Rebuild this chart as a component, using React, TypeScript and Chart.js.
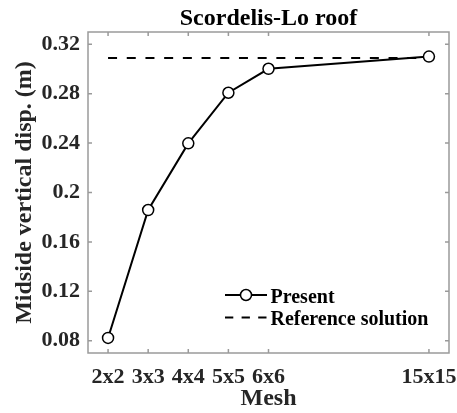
import React, { useEffect, useRef } from 'react';
import { Chart, registerables } from 'chart.js';

Chart.register(...registerables);

// ---- data ----
const meshLabels = ['2x2', '3x3', '4x4', '5x5', '6x6', '15x15'];
const meshPositions = [2, 3, 4, 5, 6, 10];
const presentValues = [0.0822, 0.1858, 0.2398, 0.2808, 0.3002, 0.3101];
const referenceValue = 0.309;
const referenceSpan = [2, 10];
const yTickValues = [0.08, 0.12, 0.16, 0.2, 0.24, 0.28, 0.32];
const yTickLabels = ['0.08', '0.12', '0.16', '0.2', '0.24', '0.28', '0.32'];
const yRange = [0.07, 0.33];
const xRange = [1.5, 10.5];

const FONT = '"Liberation Serif", "Times New Roman", serif';
const TEXT = '#262626';
const AXIS = '#9a9a9a';

const framePlugin = {
  id: 'frame',
  beforeDatasetsDraw(chart: any) {
    const { ctx, chartArea: a, scales } = chart;
    ctx.save();
    ctx.strokeStyle = AXIS;
    ctx.lineWidth = 1.5;
    ctx.strokeRect(a.left, a.top, a.right - a.left, a.bottom - a.top);
    const L = 4;
    ctx.beginPath();
    for (const v of meshPositions) {
      const x = scales.x.getPixelForValue(v);
      ctx.moveTo(x, a.bottom);
      ctx.lineTo(x, a.bottom - L);
      ctx.moveTo(x, a.top);
      ctx.lineTo(x, a.top + L);
    }
    for (const v of yTickValues) {
      const y = scales.y.getPixelForValue(v);
      ctx.moveTo(a.left, y);
      ctx.lineTo(a.left + L, y);
      ctx.moveTo(a.right, y);
      ctx.lineTo(a.right - L, y);
    }
    ctx.stroke();
    ctx.restore();
  },
};

const legendPlugin = {
  id: 'customLegend',
  afterDraw(chart: any) {
    const { ctx, chartArea: a } = chart;
    const ds = chart.data.datasets;
    const x0 = a.right - 224;
    const x1 = a.right - 182;
    const tx = a.right - 178.5;
    const rows = [
      { line: a.bottom - 58, base: a.bottom - 49.7 },
      { line: a.bottom - 35.5, base: a.bottom - 28 },
    ];
    ctx.save();
    ds.forEach((d: any, i: number) => {
      const r = rows[i];
      ctx.strokeStyle = d.borderColor;
      ctx.lineWidth = d.borderWidth;
      ctx.setLineDash(i === 1 ? [8.3, 8.3] : []);
      ctx.beginPath();
      ctx.moveTo(x0, r.line);
      ctx.lineTo(x1, r.line);
      ctx.stroke();
      ctx.setLineDash([]);
      if (d.pointRadius > 0) {
        ctx.beginPath();
        ctx.arc((x0 + x1) / 2, r.line, d.pointRadius, 0, Math.PI * 2);
        ctx.fillStyle = d.pointBackgroundColor;
        ctx.fill();
        ctx.lineWidth = d.pointBorderWidth;
        ctx.strokeStyle = d.pointBorderColor;
        ctx.stroke();
      }
      ctx.fillStyle = '#000';
      ctx.font = `bold 20px ${FONT}`;
      ctx.textAlign = 'left';
      ctx.textBaseline = 'alphabetic';
      ctx.fillText(d.label, tx, r.base);
    });
    ctx.restore();
  },
};

export default function App() {
  const ref = useRef<HTMLCanvasElement>(null);

  useEffect(() => {
    document.body.style.margin = '0';
    const canvas = ref.current!;
    const chart = new Chart(canvas, {
      type: 'line',
      data: {
        datasets: [
          {
            label: 'Present',
            data: meshPositions.map((x, i) => ({ x, y: presentValues[i] })),
            borderColor: '#000',
            borderWidth: 2,
            pointRadius: 5.5,
            pointBorderWidth: 1.5,
            pointBackgroundColor: '#fff',
            pointBorderColor: '#000',
            pointHoverRadius: 5.5,
            tension: 0,
          },
          {
            label: 'Reference solution',
            data: referenceSpan.map((x) => ({ x, y: referenceValue })),
            borderColor: '#000',
            borderWidth: 2,
            borderDash: [9, 9.7],
            pointRadius: 0,
            pointBorderWidth: 0,
            pointBackgroundColor: '#000',
            pointBorderColor: '#000',
            tension: 0,
          },
        ],
      },
      options: {
        responsive: false,
        animation: false,
        devicePixelRatio: 1,
        layout: { padding: { left: 0, right: 8, top: 0, bottom: 0 } },
        plugins: {
          legend: { display: false },
          tooltip: { enabled: false },
          title: {
            display: true,
            text: 'Scordelis-Lo roof',
            fullSize: false,
            color: '#000',
            font: { family: FONT, size: 24, weight: 'bold', lineHeight: 1 },
            padding: { top: 7, bottom: 1 },
          },
        },
        scales: {
          x: {
            type: 'linear',
            min: xRange[0],
            max: xRange[1],
            grid: { display: false, drawTicks: false },
            border: { display: false },
            afterBuildTicks: (s: any) => {
              s.ticks = meshPositions.map((v) => ({ value: v }));
            },
            afterFit: (s: any) => {
              s.height = 60;
              s.paddingLeft = 0;
              s.paddingRight = 0;
            },
            ticks: {
              autoSkip: false,
              maxRotation: 0,
              padding: 11,
              color: TEXT,
              font: { family: FONT, size: 22, weight: 'bold' },
              callback: (v: any) => {
                const i = meshPositions.indexOf(Number(v));
                return i >= 0 ? meshLabels[i] : '';
              },
            },
            title: {
              display: true,
              text: 'Mesh',
              color: TEXT,
              font: { family: FONT, size: 24, weight: 'bold' },
              padding: { top: 0, bottom: 0 },
            },
          },
          y: {
            type: 'linear',
            min: yRange[0],
            max: yRange[1],
            grid: { display: false, drawTicks: false },
            border: { display: false },
            afterBuildTicks: (s: any) => {
              s.ticks = yTickValues.map((v) => ({ value: v }));
            },
            afterFit: (s: any) => {
              s.width = 88;
              s.paddingTop = 0;
              s.paddingBottom = 0;
            },
            ticks: {
              autoSkip: false,
              padding: 8,
              color: TEXT,
              font: { family: FONT, size: 22, weight: 'bold' },
              callback: (v: any) => {
                const i = yTickValues.findIndex((t) => Math.abs(t - Number(v)) < 1e-9);
                return i >= 0 ? yTickLabels[i] : '';
              },
            },
            title: {
              display: true,
              text: 'Midside vertical disp. (m)',
              color: TEXT,
              font: { family: FONT, size: 24, weight: 'bold' },
              padding: { top: 10, bottom: 0 },
            },
          },
        },
      },
      plugins: [framePlugin, legendPlugin],
    } as any);
    return () => chart.destroy();
  }, []);

  return (
    <div style={{ position: 'absolute', left: 0, top: 0, width: 457, height: 413, background: '#fff' }}>
      <canvas ref={ref} width={457} height={413} />
    </div>
  );
}
